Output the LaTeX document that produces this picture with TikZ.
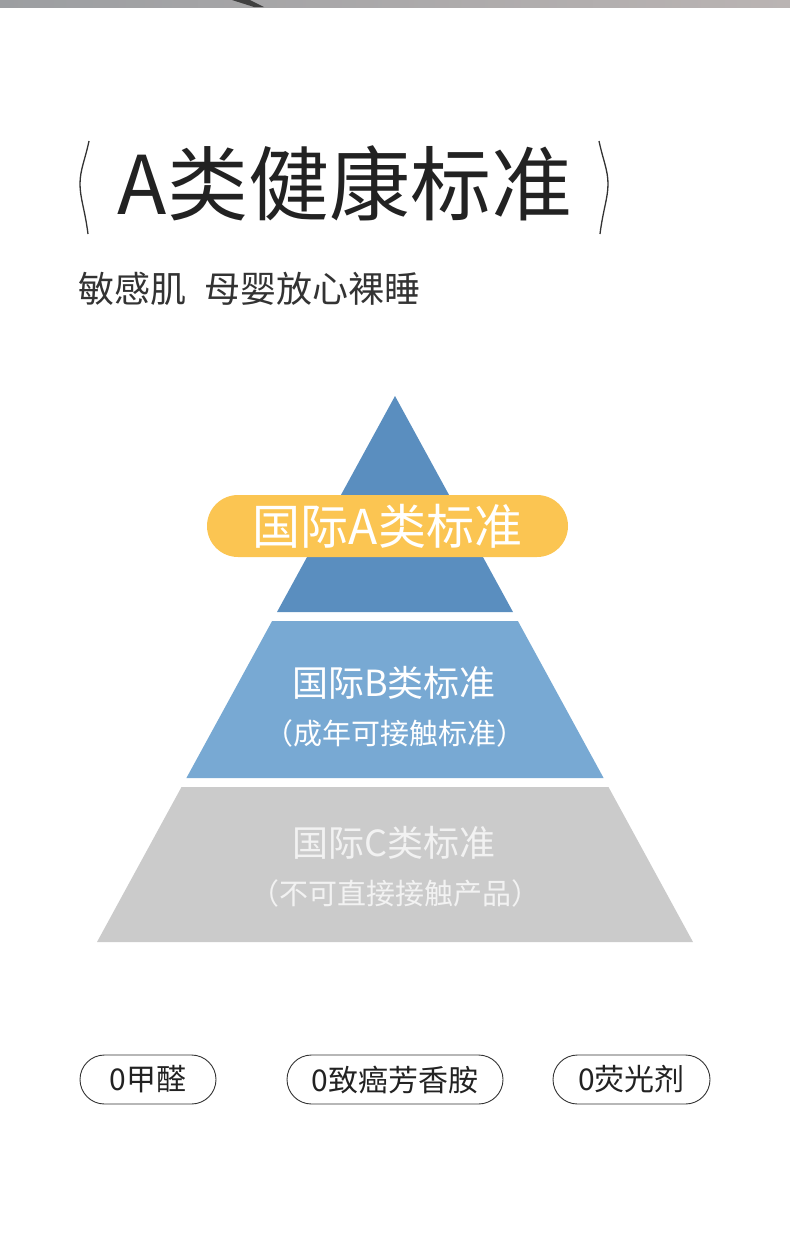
\documentclass[tikz,border=0pt]{standalone}
\usepackage{fontspec}
\setmainfont{Noto Sans CJK SC}
\usepackage{xcolor}
\usepackage{tikz}
\usetikzlibrary{positioning}
\definecolor{ink}{HTML}{222222}
\definecolor{subink}{HTML}{333333}
\definecolor{tierA}{HTML}{5A8EBF}
\definecolor{tierB}{HTML}{78A9D3}
\definecolor{tierC}{HTML}{CBCBCB}
\definecolor{gold}{HTML}{FBC552}
\definecolor{stripL}{HTML}{9C9EA1}
\definecolor{stripR}{HTML}{BAB4B3}
\newcommand{\pxsize}[1]{\fontsize{#1}{#1}\selectfont}

\begin{document}
\begin{tikzpicture}[x=1pt,y=-1pt,
  tiertext/.style={white,inner sep=0,align=center},
  tag/.style={draw=subink,line width=0.9pt,rounded corners=24.5pt,minimum height=49pt,inner sep=0,text=ink,font=\pxsize{30}}]
  \useasboundingbox (0,0) rectangle (790,1243);
  % photo strip at the top edge
  \shade[left color=stripL,right color=stripR] (0,0) rectangle (790,7);
  \fill[black!75] (232,0)--(250,0)--(264,7)--(254,7)--cycle;
  % heading
  \node[text=ink,font=\pxsize{81},inner sep=0] (title) at (345,183) {A类健康标准};
  \draw[subink,line width=1.3pt] (89,141) .. controls (85,160) and (80,170) .. (80,184) .. controls (80,198) and (85,210) .. (88,234);
  \draw[subink,line width=1.3pt] (599,141) .. controls (603,160) and (608,170) .. (608,184) .. controls (608,198) and (603,210) .. (600,234);
  \node[text=subink,font=\pxsize{36},anchor=west,inner sep=0] (slogan) at (78,289) {敏感肌\hspace{18pt}母婴放心裸睡};
  % pyramid, one triangle cut in three tiers
  \fill[tierA] (395,396)--(513,612)--(277,612)--cycle;
  \fill[tierB] (272.1,621)--(517.9,621)--(603.6,778)--(186.4,778)--cycle;
  \fill[tierC] (181.5,787)--(608.5,787)--(693,942)--(97,942)--cycle;
  \node[fill=gold,rounded corners=31pt,minimum width=361pt,minimum height=62pt,inner sep=0,text=white,font=\pxsize{48}] (gradeA) at (387.5,526) {国际A类标准};
  \node[tiertext,font=\pxsize{36}] (gradeB) at (394,683) {国际B类标准};
  \node[tiertext,font=\pxsize{29}] (noteB) at (395,733) {（成年可接触标准）};
  \node[tiertext,text=white!95!black,font=\pxsize{36}] (gradeC) at (394,843) {国际C类标准};
  \node[tiertext,text=white!95!black,font=\pxsize{29}] (noteC) at (395,893) {（不可直接接触产品）};
  % tags
  \node[tag,minimum width=136pt] (tagA) at (148,1079.5) {0甲醛};
  \node[tag,minimum width=216pt] (tagB) at (395,1079.5) {0致癌芳香胺};
  \node[tag,minimum width=157pt] (tagC) at (631.5,1079.5) {0荧光剂};
\end{tikzpicture}
\end{document}
